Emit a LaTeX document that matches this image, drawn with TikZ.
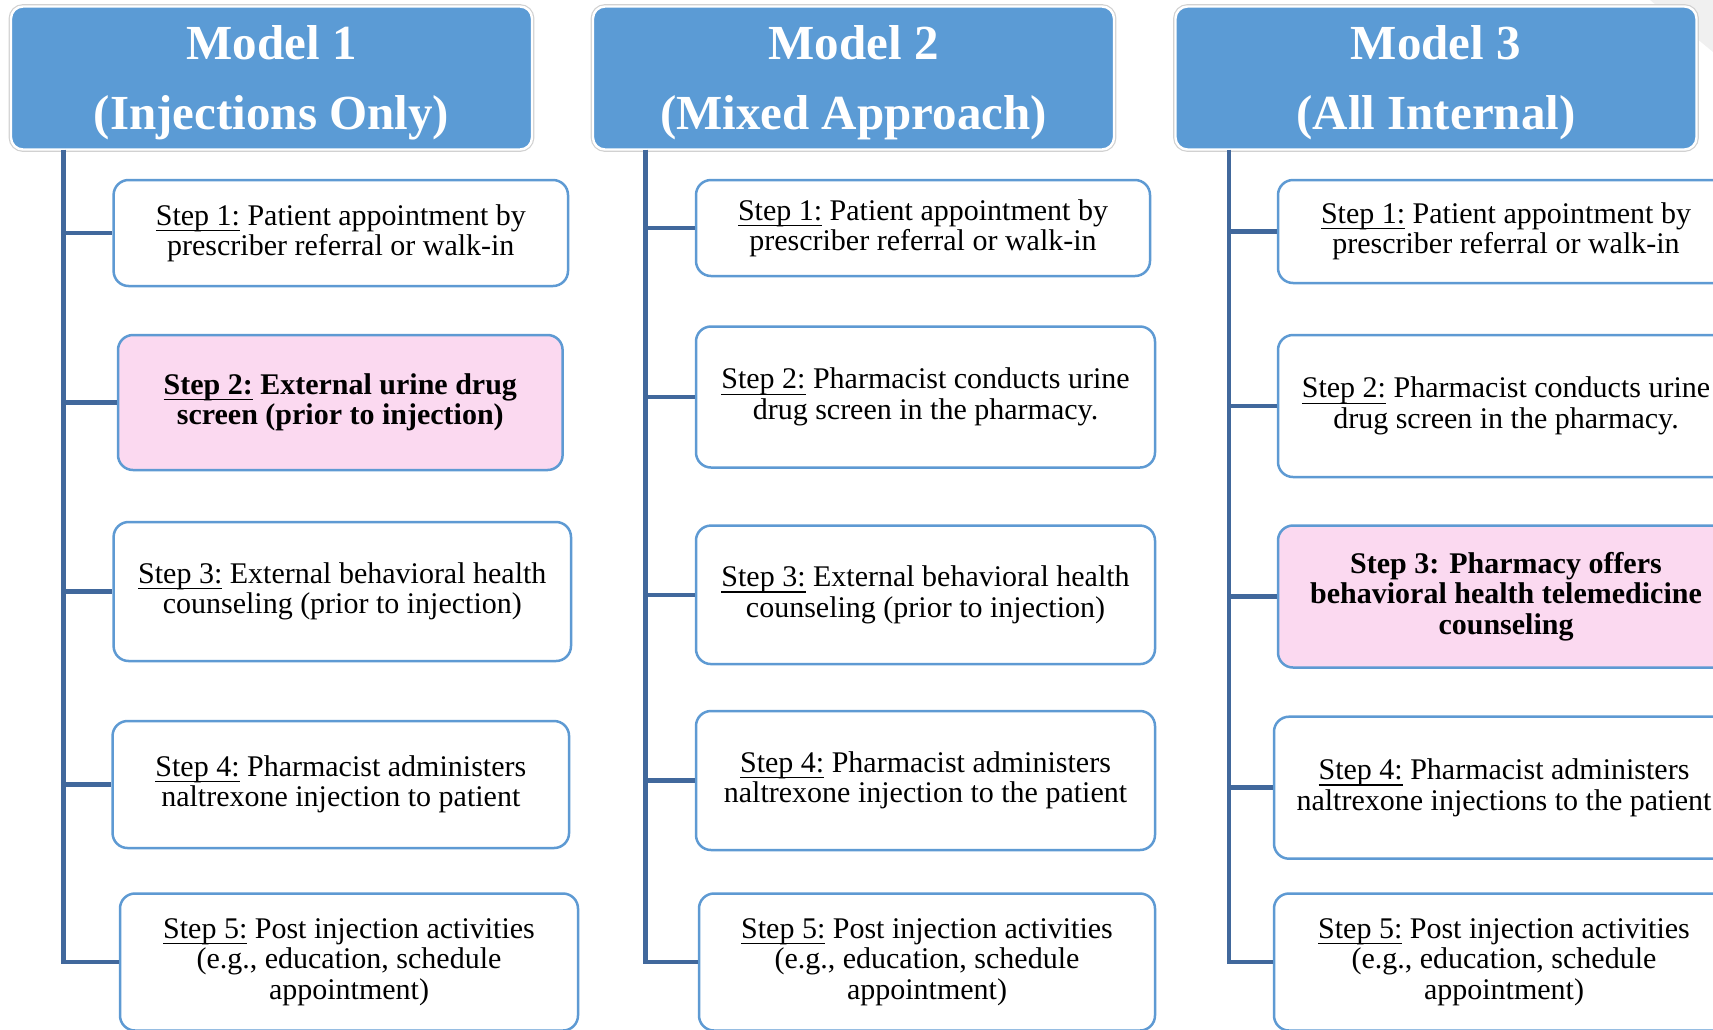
\documentclass[tikz,border=0pt]{standalone}
\usepackage{fontspec}
\setmainfont{Liberation Serif}
\definecolor{hdrblue}{HTML}{5B9BD5}
\definecolor{boxblue}{HTML}{5E9AD3}
\definecolor{connblue}{HTML}{41689C}
\definecolor{pinkfill}{HTML}{FBD9F0}
\newcommand\stepul[1]{\setbox0\hbox{#1}\rlap{\rule[-2.9pt]{\wd0}{0.55pt}}\box0\relax}
\tikzset{
  header/.style={rectangle, rounded corners=6pt, fill=hdrblue, draw=white, line width=1.2pt,
    preaction={draw=black!18, line width=2.4pt},
    minimum width=260.5pt, minimum height=71.5pt, inner sep=0pt},
  htext/.style={inner sep=0pt, align=center,
    text=white, font=\fontsize{24.5}{35}\selectfont\bfseries},
  stepbox/.style={rectangle, rounded corners=7.5pt, fill=white, draw=boxblue, line width=1.25pt,
    inner sep=0pt, align=center, font=\fontsize{15}{15.2}\selectfont},
  pinkbox/.style={stepbox, fill=pinkfill, font=\fontsize{15}{15.2}\selectfont\bfseries},
  conn/.style={draw=connblue, line width=2.25pt}
}
\begin{document}
\begin{tikzpicture}[x=0.5pt,y=-0.5pt]
\useasboundingbox (0,0) rectangle (1713,1029);
\clip (0,0) rectangle (1713,1029);
\fill[black!6] (1650,0) -- (1713,0) -- (1713,52) -- cycle;

% headers
\node[header] (h1) at (271.5,78) {};
\node[header] (h2) at (853.5,78) {};
\node[header] (h3) at (1436,78) {};
\node[htext] (h1t) at ([yshift=-2.6pt]h1.center) {Model 1\\(Injections Only)};
\node[htext] (h2t) at ([yshift=-2.6pt]h2.center) {Model 2\\(Mixed Approach)};
\node[htext] (h3t) at ([yshift=-2.6pt]h3.center) {Model 3\\(All Internal)};

% column 1
\node[stepbox, minimum width=227.2pt, minimum height=53pt] (s11) at (340.8,233)
  {\stepul{Step 1:} Patient appointment by\\prescriber referral or walk-in};
\node[pinkbox, minimum width=222.3pt, minimum height=67.5pt] (s12) at (340.3,402.5)
  {\stepul{Step 2:} External urine drug\\screen (prior to injection)};
\node[stepbox, minimum width=228.7pt, minimum height=69.5pt] (s13) at (342.3,591.5)
  {\stepul{Step 3:} External behavioral health\\counseling (prior to injection)};
\node[stepbox, minimum width=228.25pt, minimum height=63.5pt] (s14) at (340.8,784.5)
  {\stepul{Step 4:} Pharmacist administers\\naltrexone injection to patient};
\node[stepbox, minimum width=229pt, minimum height=68.5pt] (s15) at (349,962)
  {\stepul{Step 5:} Post injection activities\\(e.g., education, schedule\\appointment)};

% column 2
\node[stepbox, minimum width=227pt, minimum height=48pt] (s21) at (923,228)
  {\stepul{Step 1:} Patient appointment by\\prescriber referral or walk-in};
\node[stepbox, minimum width=229.5pt, minimum height=70.5pt] (s22) at (925.5,397)
  {\stepul{Step 2:} Pharmacist conducts urine\\drug screen in the pharmacy.};
\node[stepbox, minimum width=229.5pt, minimum height=69.25pt] (s23) at (925.5,594.8)
  {\stepul{Step 3:} External behavioral health\\counseling (prior to injection)};
\node[stepbox, minimum width=229.5pt, minimum height=69.5pt] (s24) at (925.5,780.5)
  {\stepul{Step 4:} Pharmacist administers\\naltrexone injection to the patient};
\node[stepbox, minimum width=228pt, minimum height=68.5pt] (s25) at (927,962)
  {\stepul{Step 5:} Post injection activities\\(e.g., education, schedule\\appointment)};

% column 3
\node[stepbox, minimum width=228pt, minimum height=51.5pt] (s31) at (1506,231.5)
  {\stepul{Step 1:} Patient appointment by\\prescriber referral or walk-in};
\node[stepbox, minimum width=228pt, minimum height=71pt] (s32) at (1506,406)
  {\stepul{Step 2:} Pharmacist conducts urine\\drug screen in the pharmacy.};
\node[pinkbox, minimum width=228pt, minimum height=71pt] (s33) at (1506,596.5)
  {Step 3: Pharmacy offers\\behavioral health telemedicine\\counseling};
\node[stepbox, minimum width=230pt, minimum height=71pt] (s34) at (1504,787.7)
  {\stepul{Step 4:} Pharmacist administers\\naltrexone injections to the patient};
\node[stepbox, minimum width=230pt, minimum height=68.5pt] (s35) at (1504,962)
  {\stepul{Step 5:} Post injection activities\\(e.g., education, schedule\\appointment)};

% connectors
\coordinate (c1) at (63.4,149.7);
\coordinate (c2) at (645.7,149.7);
\coordinate (c3) at (1229,149.7);
\foreach \col/\cc in {1/c1,2/c2,3/c3}{
  \draw[conn] (\cc) |- (s\col5.west);
  \foreach \r in {1,2,3,4}{
    \draw[conn] (\cc |- s\col\r.west) -- (s\col\r.west);
  }
}
\end{tikzpicture}
\end{document}
